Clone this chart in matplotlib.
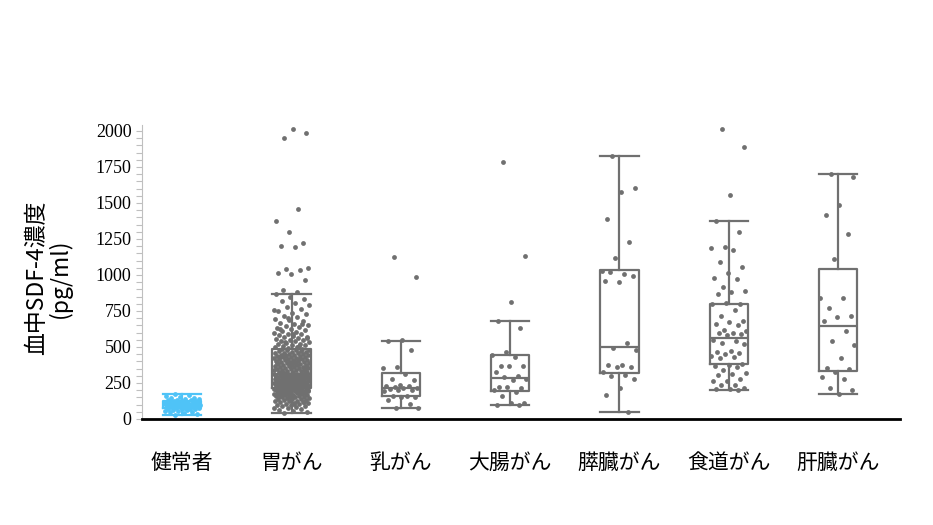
import numpy as np
import matplotlib
matplotlib.use("Agg")
import matplotlib.pyplot as plt
from matplotlib.ticker import MultipleLocator

plt.rcParams['font.family'] = ['Noto Sans CJK JP', 'DejaVu Sans']

# カテゴリ
categories = ['健常者', '胃がん', '乳がん', '大腸がん', '膵臓がん', '食道がん', '肝臓がん']

# 各群の測定値 (pg/ml) - 図から読み取り
healthy = [28, 35, 42, 47, 51, 55, 58, 61, 64, 66, 68, 70, 72, 74, 76, 78, 80, 82, 83, 85,
           87, 88, 90, 92, 93, 95, 96, 98, 99, 101, 102, 104, 105, 107, 108, 110, 112, 113,
           115, 117, 119, 121, 123, 125, 127, 129, 131, 134, 137, 140, 144, 148, 153, 158,
           165, 173]

gastric = [44, 50, 57, 63, 68, 74, 79, 85, 89, 93, 96, 100, 103, 107, 110, 113, 116, 119,
           122, 125, 128, 131, 134, 137, 139, 142, 145, 147, 150, 152, 154, 157, 159, 161,
           163, 166, 168, 170, 172, 174, 176, 178, 180, 182, 184, 186, 188, 189, 191, 193,
           194, 196, 198, 199, 201, 202, 204, 205, 207, 208, 209, 210, 211, 212, 120, 146,
           171, 187, 197, 203, 106, 160,
           214, 216, 217, 219, 221, 222, 224, 226, 227, 229, 231, 232, 234, 236, 237, 239,
           241, 243, 244, 246, 248, 250, 251, 253, 255, 257, 258, 260, 262, 264, 265, 267,
           269, 271, 272, 274, 276, 278, 279, 281, 283, 285, 286, 288, 290, 292, 293, 295,
           297, 299, 300, 302, 304, 306, 307, 309, 311, 313, 314, 316, 318, 319, 225, 247,
           263, 280, 296, 310, 235, 268, 289, 305,
           322, 324, 327, 329, 332, 334, 337, 339, 342, 344, 347, 349, 352, 354, 357, 359,
           362, 364, 367, 369, 372, 374, 377, 379, 382, 384, 387, 389, 392, 394, 397, 399,
           402, 404, 407, 409, 412, 414, 417, 419, 422, 424, 427, 429, 432, 434, 437, 439,
           442, 444, 447, 449, 452, 455, 458, 461, 464, 467, 470, 473, 476, 479, 482, 485,
           338, 366, 391, 418, 445, 360, 401, 430,
           489, 493, 497, 502, 506, 511, 515, 519, 524, 528, 533, 538, 542, 547, 551, 556,
           561, 566, 571, 576, 582, 587, 593, 598, 604, 611, 617, 624, 631, 638, 645, 653,
           661, 669, 678, 687, 696, 706, 716, 727, 738, 750, 762, 775, 789, 803, 818, 834,
           850, 866, 505, 531, 559, 590, 622, 657, 700, 760,
           884, 896, 965, 1007, 1014, 1036, 1042, 1049, 1197, 1203, 1220, 1301, 1375, 1456,
           1949, 1988, 2012]

breast = [1127, 988, 550, 540, 479, 363, 352, 310, 276, 272, 235, 231, 228, 222, 218, 214,
          208, 203, 200, 196, 160, 158, 153, 150, 132, 102, 78, 74]

colorectal = [1782, 1134, 815, 678, 632, 468, 445, 430, 368, 365, 370, 324, 300, 290, 275,
              270, 220, 218, 222, 201, 185, 160, 110, 112, 100, 100]

pancreas = [1824, 1602, 1579, 1389, 1231, 1116, 1030, 1010, 1020, 995, 949, 955, 525, 490,
            480, 375, 377, 363, 360, 324, 305, 300, 278, 215, 164, 51]

esophagus = [2014, 1887, 1556, 1377, 1296, 1192, 1185, 1174, 1088, 1053, 1016, 977, 970,
             919, 887, 880, 866, 801, 803, 798, 755, 718, 680, 672, 660, 650, 620, 612, 600,
             595, 590, 585, 550, 540, 530, 520, 470, 462, 455, 448, 440, 432, 425, 380, 375,
             368, 360, 340, 320, 312, 305, 276, 264, 262, 236, 238, 214, 210, 205, 201]

liver = [1701, 1683, 1488, 1419, 1285, 1111, 838, 840, 769, 718, 711, 678, 613, 544, 514,
         426, 352, 350, 329, 294, 276, 218, 201, 176]

groups = [healthy, gastric, breast, colorectal, pancreas, esophagus, liver]

# 箱ひげ図の統計値
whis_lo = [28, 44, 74, 100, 51, 201, 176]
q1 = [75, 213, 157, 197, 322, 382, 331]
median = [100, 315, 218, 282, 498, 562, 646]
q3 = [128, 486, 322, 442, 1037, 801, 1042]
whis_hi = [173, 866, 544, 678, 1824, 1377, 1701]

colors = ['#4FC3F7', '#707070', '#707070', '#707070', '#707070', '#707070', '#707070']

fig = plt.figure(figsize=(9.33, 5.25), dpi=100)
ax = fig.add_axes([0.152, 0.202, 0.813, 0.56])

stats = []
for i in range(len(categories)):
    stats.append({'whislo': whis_lo[i], 'q1': q1[i], 'med': median[i], 'q3': q3[i],
                  'whishi': whis_hi[i], 'fliers': []})

for i, st in enumerate(stats):
    c = colors[i]
    ax.bxp([st], positions=[i], widths=0.35, showfliers=False,
           boxprops=dict(color=c, linewidth=1.6),
           medianprops=dict(color=c, linewidth=1.6),
           whiskerprops=dict(color=c, linewidth=1.6),
           capprops=dict(color=c, linewidth=1.6),
           capwidths=0.35)

# 点のばらつき (決定的なジッター)
for i, vals in enumerate(groups):
    n = len(vals)
    jit = ((np.arange(n) * 0.618034 + 0.3) % 1.0 - 0.5) * 0.33
    ax.scatter(i + jit, vals, s=12, color=colors[i], zorder=3, linewidths=0)

ax.set_xlim(-0.37, 6.57)
ax.set_ylim(0, 2042)
ax.yaxis.set_major_locator(MultipleLocator(250))
ax.yaxis.set_minor_locator(MultipleLocator(50))
ax.set_xticks(range(len(categories)))
ax.set_xticklabels(categories, fontsize=15)
ax.tick_params(axis='x', length=0, pad=24)
ax.tick_params(axis='y', which='both', color='#bfbfbf', length=4, width=0.8)
for lab in ax.get_yticklabels():
    lab.set_family('Liberation Serif')
    lab.set_fontsize(13)

ax.spines['top'].set_visible(False)
ax.spines['right'].set_visible(False)
ax.spines['left'].set_color('#bfbfbf')
ax.spines['bottom'].set_color('black')
ax.spines['bottom'].set_linewidth(2)

ax.set_ylabel('血中SDF-4濃度\n(pg/ml)', fontsize=16.5, linespacing=1.0)
ax.yaxis.set_label_coords(-0.092, 0.48)

plt.savefig('out.png', dpi=100)
plt.close()
